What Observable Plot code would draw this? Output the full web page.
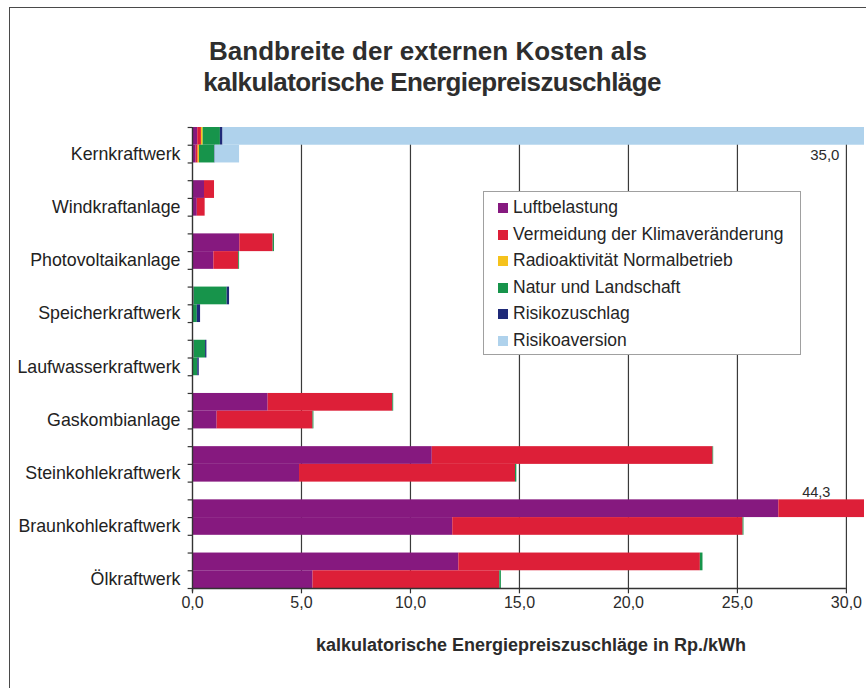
<!DOCTYPE html>
<html>
<head>
<meta charset="utf-8">
<script src="https://cdn.jsdelivr.net/npm/d3@7"></script>
<script src="https://cdn.jsdelivr.net/npm/@observablehq/plot@0.6"></script>
<style>
  body { margin: 0; background: #fff; }
  #wrap { position: relative; width: 866px; height: 688px; overflow: hidden; background: #fff;
          font-family: "Liberation Sans", Arial, Helvetica, sans-serif; color: #2b2b2b; }
  #title { position: absolute; left: 0; width: 856px; top: 36px; text-align: center;
           font-weight: bold; font-size: 26px; line-height: 31px; color: #2e2e2e; }
  #title .l2 { letter-spacing: -0.6px; margin-left: 8px; }
  #chart { position: absolute; left: 0; top: 110px; }
  #xlabel { position: absolute; left: 231px; width: 600px; top: 634px; text-align: center;
            font-weight: bold; font-size: 18px; line-height: 22px; color: #2b2b2b; }
  #legend { position: absolute; left: 483px; top: 191px; width: 316px; height: 160px;
            border: 1.5px solid #a0a0a0; background: #fff; padding-top: 2px; box-sizing: content-box; }
  .li { height: 26.6px; line-height: 26.6px; font-size: 17.5px; color: #252525; white-space: nowrap; }
  .sw { display: inline-block; width: 10px; height: 10px; margin-left: 14px; margin-right: 5px; vertical-align: 0px; }
  #frame { position: absolute; left: 9px; top: 7px; right: -4px; bottom: -4px;
           border-left: 1.5px solid #4a4a4a; border-top: 1.5px solid #4a4a4a; pointer-events: none; }
</style>
</head>
<body>
<div id="wrap">
  <div id="title">Bandbreite der externen Kosten als<br><span class="l2">kalkulatorische Energiepreiszuschläge</span></div>
  <div id="chart"></div>
  <div id="xlabel">kalkulatorische Energiepreiszuschläge in Rp./kWh</div>
  <div id="legend"></div>
  <div id="frame"></div>
</div>
<script>
// ---- data ----
const categories = ["Kernkraftwerk", "Windkraftanlage", "Photovoltaikanlage", "Speicherkraftwerk",
  "Laufwasserkraftwerk", "Gaskombianlage", "Steinkohlekraftwerk", "Braunkohlekraftwerk", "Ölkraftwerk"];

const seriesNames = ["Luftbelastung", "Vermeidung der Klimaveränderung", "Radioaktivität Normalbetrieb",
  "Natur und Landschaft", "Risikozuschlag", "Risikoaversion"];
const seriesColors = ["#86197f", "#dd1f38", "#f5c21c", "#17944b", "#1f2a78", "#afd2ec"];

// upper bar (high estimate), per category, Rp./kWh
const luftHigh   = [0.24, 0.55, 2.17, 0.07, 0.07, 3.47, 11.00, 26.90, 12.22];
const klimaHigh  = [0.17, 0.46, 1.53, 0.00, 0.00, 5.72, 12.88, 17.40, 11.08];
const radioHigh  = [0.08, 0.00, 0.00, 0.00, 0.00, 0.00, 0.00, 0.00, 0.00];
const naturHigh  = [0.79, 0.00, 0.06, 1.52, 0.53, 0.04, 0.03, 0.00, 0.12];
const risikoHigh = [0.12, 0.00, 0.00, 0.11, 0.06, 0.00, 0.00, 0.00, 0.00];
const aversHigh  = [33.60, 0.00, 0.00, 0.00, 0.00, 0.00, 0.00, 0.00, 0.00];

// lower bar (low estimate)
const luftLow    = [0.17, 0.22, 0.98, 0.03, 0.02, 1.13, 4.91, 11.94, 5.53];
const klimaLow   = [0.09, 0.36, 1.14, 0.00, 0.00, 4.40, 9.91, 13.32, 8.57];
const radioLow   = [0.06, 0.00, 0.00, 0.00, 0.00, 0.00, 0.00, 0.00, 0.00];
const naturLow   = [0.70, 0.00, 0.04, 0.19, 0.22, 0.04, 0.06, 0.04, 0.07];
const risikoLow  = [0.02, 0.00, 0.00, 0.15, 0.07, 0.00, 0.00, 0.00, 0.00];
const aversLow   = [1.12, 0.00, 0.00, 0.00, 0.00, 0.00, 0.00, 0.00, 0.00];

const xTicks = [0, 5, 10, 15, 20, 25, 30];
// categories whose upper bar is cut off, with printed total
const cutLabels = ["Kernkraftwerk", "Braunkohlekraftwerk"];

// ---- build stacked segments ----
const highSeries = [luftHigh, klimaHigh, radioHigh, naturHigh, risikoHigh, aversHigh];
const lowSeries  = [luftLow, klimaLow, radioLow, naturLow, risikoLow, aversLow];
const segments = [];
const totals = {};
categories.forEach((cat, i) => {
  [highSeries, lowSeries].forEach((ser, level) => {
    let acc = 0;
    ser.forEach((arr, s) => {
      const v = arr[i];
      if (v > 0) segments.push({cat, series: seriesNames[s], x1: acc, x2: acc + v, y1: 3 * i + level, y2: 3 * i + level + 1});
      acc += v;
    });
    if (level === 0) totals[cat] = acc;
  });
});
const fmt = d => d.toFixed(1).replace(".", ",");
const idx = c => categories.indexOf(c);

const font = '"Liberation Sans", Arial, Helvetica, sans-serif';
const ink = "#2b2b2b";

const plot = Plot.plot({
  width: 866,
  height: 578,
  marginLeft: 192,
  marginRight: 2,
  marginTop: 17,
  marginBottom: 100,
  style: {fontFamily: font, background: "none", color: ink},
  x: {domain: [0, 30.83], axis: null},
  y: {domain: [0, 26], reverse: true, axis: null},
  color: {domain: seriesNames, range: seriesColors, legend: false},
  marks: [
    Plot.ruleX(xTicks.slice(1), {stroke: "#3a3a3a", strokeWidth: 1.2}),
    Plot.rect(segments, {x1: "x1", x2: "x2", y1: "y1", y2: "y2", fill: "series", clip: true}),
    Plot.ruleX([0], {y1: 0, y2: 26.2, stroke: "#333", strokeWidth: 1.4}),
    Plot.ruleY(d3.range(27), {x1: -0.2, x2: 0, stroke: "#333", strokeWidth: 1.2}),
    Plot.ruleY([26], {x1: 0, x2: 30, stroke: "#333", strokeWidth: 1.4}),
    Plot.ruleX(xTicks, {y1: 26, y2: 26.3, stroke: "#333", strokeWidth: 1.2}),
    Plot.text(xTicks, {x: d => d, y: 26, dy: 14, text: fmt, fontSize: 16, fill: ink}),
    Plot.text(categories, {x: 0, y: (d) => 3 * idx(d) + 1.5, text: d => d, dx: -12, textAnchor: "end", fontSize: 17.8, fill: "#222"}),
    Plot.text(cutLabels.slice(0, 1), {x: 30, y: d => 3 * idx(d) + 1.58, text: d => fmt(totals[d]), dx: -7, textAnchor: "end", fontSize: 15, fill: ink}),
    Plot.text(cutLabels.slice(1), {x: 30, y: d => 3 * idx(d) - 0.4, text: d => fmt(totals[d]), dx: -16, textAnchor: "end", fontSize: 14.5, fill: ink})
  ]
});
document.getElementById("chart").appendChild(plot);

// legend
const leg = document.getElementById("legend");
seriesNames.forEach((name, s) => {
  const row = document.createElement("div");
  row.className = "li";
  const sw = document.createElement("span");
  sw.className = "sw";
  sw.style.background = seriesColors[s];
  row.appendChild(sw);
  row.appendChild(document.createTextNode(name));
  leg.appendChild(row);
});
</script>
</body>
</html>
